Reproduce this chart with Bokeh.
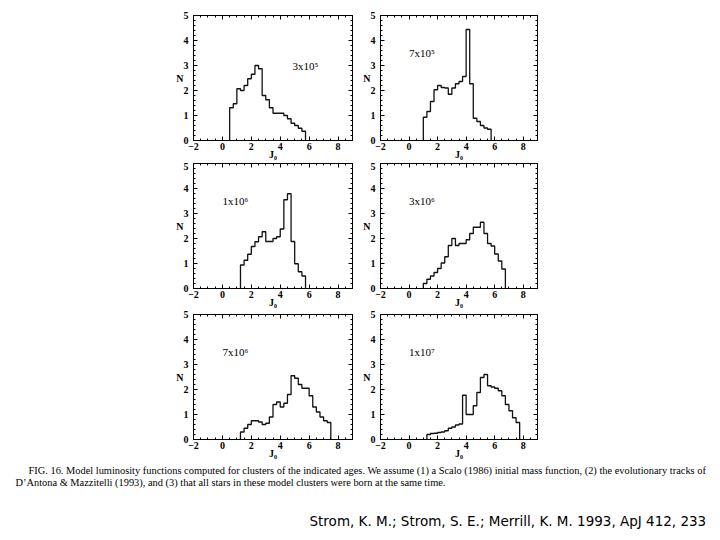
from bokeh.plotting import figure
from bokeh.models import LinearAxis, Label, Range1d, SingleIntervalTicker
from bokeh.layouts import column, row
from bokeh.embed import file_html
from bokeh.resources import INLINE
import numpy as np

# ---------------- data ----------------
BIN_WIDTH = 0.25
ages = ["3x10\u2075", "7x10\u2075", "1x10\u2076", "3x10\u2076", "7x10\u2076", "1x10\u2077"]
age_x = [4.85, 0.0, 0.0, 0.0, 0.0, 0.0]
age_y = [3.0, 3.5, 3.5, 3.5, 3.5, 3.5]
x_labels = ["J\u2080", "J\u2080", "J\u2080", "J\u2080", "J\u2080", "J\u2080"]
bin_start = [0.5, 1.0, 1.25, 1.0, 1.25, 1.25]

n_3e5 = [1.31, 1.47, 2.07, 2.0, 2.2, 2.47, 2.65, 3.0, 2.87, 1.8, 1.63,
         1.31, 1.09, 1.09, 1.09, 1.0, 0.87, 0.69, 0.6, 0.49, 0.37]
n_7e5 = [0.93, 1.16, 1.56, 2.03, 2.2, 2.12, 2.1, 1.85, 2.1, 2.27, 2.36,
         2.56, 4.44, 2.27, 0.89, 0.76, 0.6, 0.5, 0.45]
n_1e6 = [0.94, 1.13, 1.37, 1.68, 1.87, 2.07, 2.27, 1.88, 1.88, 2.0, 2.07,
         2.38, 3.55, 3.79, 1.88, 0.99, 0.67, 0.5]
n_3e6 = [0.2, 0.37, 0.5, 0.64, 0.8, 1.02, 1.27, 1.72, 2.0, 1.72, 1.8,
         1.8, 1.95, 2.2, 2.45, 2.45, 2.65, 2.2, 1.8, 1.7, 1.38, 1.1, 0.78]
n_7e6 = [0.3, 0.45, 0.6, 0.75, 0.75, 0.7, 0.6, 0.65, 0.9, 1.4, 1.5,
         1.3, 1.45, 1.8, 2.55, 2.45, 2.2, 2.05, 2.05, 1.75, 1.3, 1.1, 0.9,
         0.75, 0.68]
n_1e7 = [0.2, 0.24, 0.25, 0.28, 0.3, 0.35, 0.45, 0.5, 0.58, 0.62, 1.77,
         1.0, 1.0, 1.35, 1.88, 2.48, 2.6, 2.15, 2.1, 2.05, 1.95, 1.75, 1.4,
         1.15, 0.87, 0.68]
series = [n_3e5, n_7e5, n_1e6, n_3e6, n_7e6, n_1e7]

x_ticks_interval = 2
y_ticks_interval = 1

caption_1 = ("FIG. 16.    Model luminosity functions computed for clusters of the indicated ages. "
             "We assume (1) a Scalo (1986) initial mass function, (2) the evolutionary tracks of")
caption_2 = ("D\u2019Antona & Mazzitelli (1993), and (3) that all stars in these model clusters "
             "were born at the same time.")
citation = "Strom, K. M.; Strom, S. E.; Merrill, K. M. 1993, ApJ 412, 233"

SERIF = "Liberation Serif"


def style_axis(ax, show_labels):
    ax.major_tick_in = 4
    ax.major_tick_out = 0
    ax.minor_tick_in = 2
    ax.minor_tick_out = 0
    ax.axis_line_color = "black"
    ax.major_tick_line_color = "black"
    ax.minor_tick_line_color = "black"
    if show_labels:
        ax.major_label_text_font = SERIF
        ax.major_label_text_font_size = "10px"
        ax.major_label_text_font_style = "bold"
        ax.major_label_text_color = "black"
        ax.major_label_standoff = 2
        ax.axis_label_text_font = SERIF
        ax.axis_label_text_font_size = "10px"
        ax.axis_label_text_font_style = "bold"
        ax.axis_label_text_color = "black"
        ax.axis_label_standoff = -4
    else:
        ax.major_label_text_font_size = "0px"
        ax.major_label_text_color = None
        ax.major_label_text_alpha = 0
        ax.major_label_standoff = 0


def make_panel(i, frame_w, bl, br, bt, bb):
    p = figure(frame_width=frame_w, frame_height=125,
               x_range=Range1d(-2, 9), y_range=Range1d(0, 5),
               output_backend="svg", toolbar_location=None,
               min_border_left=bl, min_border_right=br,
               min_border_top=bt, min_border_bottom=bb,
               background_fill_color="white", border_fill_color="white")
    p.grid.visible = False
    p.outline_line_color = "black"
    p.xaxis.ticker = SingleIntervalTicker(interval=x_ticks_interval, num_minor_ticks=4)
    p.yaxis.ticker = SingleIntervalTicker(interval=y_ticks_interval, num_minor_ticks=5)
    p.xaxis.axis_label = x_labels[i]
    p.yaxis.axis_label = "N"
    p.yaxis.axis_label_orientation = "horizontal"
    style_axis(p.xaxis[0], True)
    style_axis(p.yaxis[0], True)
    p.yaxis[0].major_label_standoff = 5
    p.yaxis[0].axis_label_standoff = -3
    top = LinearAxis(ticker=SingleIntervalTicker(interval=x_ticks_interval, num_minor_ticks=4))
    right = LinearAxis(ticker=SingleIntervalTicker(interval=y_ticks_interval, num_minor_ticks=5))
    style_axis(top, False)
    style_axis(right, False)
    p.add_layout(top, "above")
    p.add_layout(right, "right")

    vals = series[i]
    edges = bin_start[i] + BIN_WIDTH * np.arange(len(vals) + 1)
    xs = np.concatenate([[edges[0]], edges])
    ys = np.concatenate([[0.0], vals, [0.0]])
    p.step(xs, ys, mode="after", line_color="#111111", line_width=1.3)

    p.add_layout(Label(x=age_x[i], y=age_y[i], text=ages[i], text_font=SERIF,
                       text_font_size="11px", text_baseline="middle",
                       text_color="black"))
    return p


LW, RW = 159, 157
p1 = make_panel(0, LW, 193, 4, 15, 22)
p2 = make_panel(1, RW, 24, 10, 15, 22)
p3 = make_panel(2, LW, 193, 4, 1, 22)
p4 = make_panel(3, RW, 24, 10, 1, 22)
p5 = make_panel(4, LW, 193, 4, 4, 22)
p6 = make_panel(5, RW, 24, 10, 4, 22)

CAP_H = 74
cap = figure(width=712, height=CAP_H, x_range=Range1d(0, 712), y_range=Range1d(0, CAP_H),
             output_backend="svg", toolbar_location=None,
             min_border=0, border_fill_color="white")
cap.axis.visible = False
cap.grid.visible = False
cap.outline_line_color = None
cap.add_layout(Label(x=28, y=65, x_units="screen", y_units="screen", text=caption_1,
                     text_font=SERIF, text_font_size="10.4px", text_baseline="middle",
                     text_color="black"))
cap.add_layout(Label(x=15, y=53, x_units="screen", y_units="screen", text=caption_2,
                     text_font=SERIF, text_font_size="10.4px", text_baseline="middle",
                     text_color="black"))
cap.add_layout(Label(x=309, y=15, x_units="screen", y_units="screen", text=citation,
                     text_font="DejaVu Sans", text_font_size="13.5px",
                     text_baseline="middle", text_color="black"))

layout = column(row(p1, p2), row(p3, p4), row(p5, p6), cap)

open("out.html", "w").write(file_html(layout, INLINE))
